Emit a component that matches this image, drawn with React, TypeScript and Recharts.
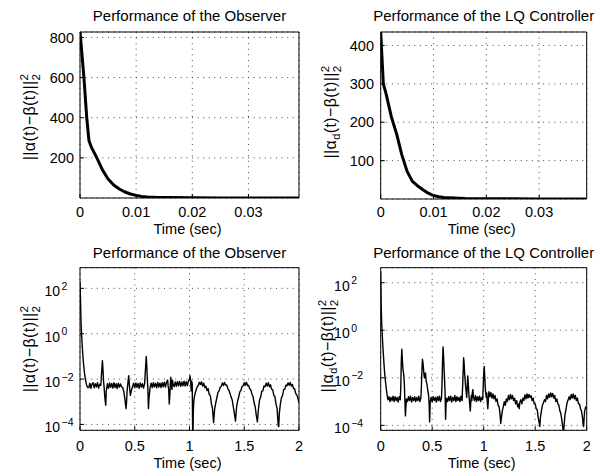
import React from 'react';
import { LineChart, Line, XAxis, YAxis, CartesianGrid } from 'recharts';

const FONT = '"Liberation Sans", Arial, Helvetica, sans-serif';

// ---------- Data ----------
const obsTopTimes = [0, 0.0007, 0.0012, 0.0016, 0.002, 0.003, 0.004, 0.005, 0.006, 0.007, 0.008, 0.009, 0.01, 0.011, 0.012, 0.014, 0.016, 0.02, 0.025, 0.03, 0.039];
const obsTopValues = [830, 600, 400, 285, 255, 200, 140, 95, 65, 45, 30, 20, 13, 8, 5.5, 3, 2, 1, 0.5, 0.3, 0.1];

const lqTopTimes = [0, 0.0005, 0.001, 0.002, 0.003, 0.004, 0.005, 0.006, 0.007, 0.008, 0.009, 0.01, 0.011, 0.012, 0.014, 0.016, 0.02, 0.025, 0.03, 0.039];
const lqTopValues = [435, 300, 275, 215, 170, 115, 72, 46, 34, 24, 15, 9, 6, 4, 2.5, 1.5, 0.8, 0.4, 0.2, 0.1];

// [time (sec), value]
const obsLogSeries: number[][] = [
  [0, 200], [0.005, 25], [0.01, 2.5], [0.02, 0.3], [0.03, 0.06], [0.04, 0.02], [0.05, 0.009], [0.06, 0.0055], [0.07, 0.0042],
  [0.08, 0.0042], [0.09, 0.0066], [0.1, 0.0039], [0.11, 0.0061], [0.12, 0.0068], [0.13, 0.0041], [0.14, 0.0063], [0.15, 0.0045], [0.16, 0.007], [0.17, 0.004], [0.18, 0.0059], [0.19, 0.0052],
  [0.2, 0.03], [0.205, 0.065], [0.21, 0.025], [0.215, 0.008], [0.22, 0.0045], [0.225, 0.002], [0.23, 0.0011], [0.235, 0.0007], [0.24, 0.003],
  [0.25, 0.0062], [0.26, 0.0039], [0.27, 0.0067], [0.28, 0.0043], [0.29, 0.0064], [0.3, 0.004], [0.31, 0.0069], [0.32, 0.0042], [0.33, 0.0063], [0.34, 0.0038],
  [0.35, 0.0066], [0.36, 0.0044], [0.37, 0.0061], [0.38, 0.0045], [0.39, 0.0043], [0.4, 0.0028], [0.41, 0.0013], [0.42, 0.0005], [0.425, 0.0009], [0.43, 0.003],
  [0.44, 0.009], [0.445, 0.014], [0.45, 0.006], [0.46, 0.0019], [0.47, 0.0032], [0.48, 0.0047], [0.49, 0.0066], [0.5, 0.0041], [0.51, 0.0068], [0.52, 0.0043],
  [0.53, 0.0064], [0.54, 0.0039], [0.55, 0.0067], [0.56, 0.0044], [0.57, 0.0062], [0.58, 0.004], [0.59, 0.0063], [0.6, 0.04], [0.605, 0.1], [0.61, 0.035],
  [0.615, 0.009], [0.62, 0.0035], [0.625, 0.0005], [0.63, 0.0014], [0.64, 0.0042], [0.65, 0.0066], [0.66, 0.0042], [0.67, 0.007], [0.68, 0.0045], [0.69, 0.0065],
  [0.7, 0.0041], [0.71, 0.0071], [0.72, 0.0044], [0.73, 0.0066], [0.74, 0.0042], [0.75, 0.0069], [0.76, 0.0046], [0.77, 0.0072], [0.78, 0.0044], [0.79, 0.0074],
  [0.8, 0.009], [0.805, 0.005], [0.81, 0.0035], [0.815, 0.0008], [0.82, 0.0018], [0.825, 0.006], [0.83, 0.012], [0.835, 0.005], [0.84, 0.0035], [0.845, 0.009],
  [0.85, 0.006], [0.86, 0.0046], [0.87, 0.0074], [0.88, 0.0048], [0.89, 0.0077], [0.9, 0.005], [0.91, 0.0079], [0.92, 0.0048], [0.93, 0.0075], [0.94, 0.005],
  [0.95, 0.008], [0.96, 0.0049], [0.97, 0.0077], [0.98, 0.0052], [0.99, 0.0082], [1.0, 0.01], [1.005, 0.014], [1.01, 0.009], [1.015, 0.003], [1.02, 0.008],
  [1.025, 0.006], [1.03, 0.00001], [1.035, 0.0004], [1.04, 0.0012], [1.05, 0.0022], [1.06, 0.0033], [1.07, 0.0045], [1.08, 0.0052], [1.09, 0.0072], [1.1, 0.0058],
  [1.11, 0.0075], [1.12, 0.0049], [1.13, 0.0066], [1.14, 0.0042], [1.15, 0.0048], [1.16, 0.0031], [1.17, 0.0038], [1.18, 0.0021], [1.19, 0.0019], [1.2, 0.0008],
  [1.21, 0.0005], [1.22, 0.00012], [1.23, 0.0005], [1.24, 0.0009], [1.25, 0.0015], [1.26, 0.0026], [1.27, 0.003], [1.28, 0.0044], [1.29, 0.0047], [1.3, 0.0068],
  [1.31, 0.0052], [1.32, 0.0071], [1.33, 0.0054], [1.34, 0.0055], [1.35, 0.0038], [1.36, 0.0032], [1.37, 0.0023], [1.38, 0.0016], [1.39, 0.0012], [1.4, 0.0006],
  [1.41, 0.0003], [1.42, 0.00014], [1.43, 0.0006], [1.44, 0.0011], [1.45, 0.0017], [1.46, 0.0027], [1.47, 0.0032], [1.48, 0.0047], [1.49, 0.0051], [1.5, 0.0069],
  [1.51, 0.0054], [1.52, 0.0072], [1.53, 0.0051], [1.54, 0.0053], [1.55, 0.0037], [1.56, 0.0033], [1.57, 0.0022], [1.58, 0.0017], [1.59, 0.0009], [1.6, 0.0006],
  [1.61, 0.00025], [1.62, 0.00013], [1.63, 0.0005], [1.64, 0.0012], [1.65, 0.0016], [1.66, 0.0029], [1.67, 0.003], [1.68, 0.0049], [1.69, 0.0046], [1.7, 0.0066],
  [1.71, 0.0049], [1.72, 0.0069], [1.73, 0.0046], [1.74, 0.0056], [1.75, 0.0035], [1.76, 0.0034], [1.77, 0.0019], [1.78, 0.0017], [1.79, 0.0008], [1.8, 0.0005],
  [1.81, 0.00009], [1.815, 0.00008], [1.82, 0.0003], [1.83, 0.0008], [1.84, 0.0015], [1.85, 0.0019], [1.86, 0.0034], [1.87, 0.0035], [1.88, 0.0054], [1.89, 0.005],
  [1.9, 0.0068], [1.91, 0.0053], [1.92, 0.0071], [1.93, 0.0049], [1.94, 0.0058], [1.95, 0.0038], [1.96, 0.0038], [1.97, 0.0023], [1.98, 0.002], [1.99, 0.0014],
  [2.0, 0.0009],
];

const lqLogSeries: number[][] = [
  [0, 300], [0.005, 10], [0.01, 1.8], [0.02, 0.25], [0.03, 0.05], [0.04, 0.013], [0.05, 0.005], [0.06, 0.0022], [0.07, 0.0012], [0.08, 0.0016],
  [0.09, 0.001], [0.1, 0.0015], [0.11, 0.0011], [0.12, 0.0017], [0.13, 0.001], [0.14, 0.0016], [0.15, 0.0011], [0.16, 0.0015], [0.17, 0.00095], [0.18, 0.0016],
  [0.19, 0.0012], [0.195, 0.004], [0.2, 0.05], [0.205, 0.16], [0.21, 0.06], [0.215, 0.025], [0.22, 0.018], [0.225, 0.012], [0.23, 0.005], [0.235, 0.001],
  [0.24, 0.00025], [0.245, 0.0006], [0.25, 0.0013], [0.26, 0.001], [0.27, 0.0016], [0.28, 0.0011], [0.29, 0.0017], [0.3, 0.00095], [0.31, 0.0015], [0.32, 0.0011],
  [0.33, 0.0016], [0.34, 0.001], [0.35, 0.0015], [0.36, 0.0011], [0.37, 0.0017], [0.38, 0.001], [0.39, 0.0014], [0.395, 0.004], [0.4, 0.02], [0.405, 0.06],
  [0.41, 0.045], [0.415, 0.025], [0.42, 0.014], [0.425, 0.01], [0.43, 0.013], [0.435, 0.016], [0.44, 0.008], [0.45, 0.005], [0.46, 0.0025], [0.465, 0.0018],
  [0.47, 0.0009], [0.475, 0.00014], [0.48, 0.0009], [0.49, 0.0015], [0.5, 0.001], [0.51, 0.0016], [0.52, 0.0011], [0.53, 0.0015], [0.54, 0.00095], [0.55, 0.0016],
  [0.56, 0.0011], [0.57, 0.0017], [0.58, 0.001], [0.59, 0.0014], [0.595, 0.005], [0.6, 0.04], [0.605, 0.2], [0.61, 0.09], [0.615, 0.025], [0.62, 0.008],
  [0.625, 0.0025], [0.63, 0.00018], [0.635, 0.0008], [0.64, 0.0014], [0.65, 0.001], [0.66, 0.0016], [0.67, 0.0011], [0.68, 0.0017], [0.69, 0.00095], [0.7, 0.0015],
  [0.71, 0.0011], [0.72, 0.0018], [0.73, 0.001], [0.74, 0.0016], [0.75, 0.0011], [0.76, 0.0015], [0.77, 0.001], [0.78, 0.0017], [0.79, 0.0011], [0.795, 0.004],
  [0.8, 0.015], [0.805, 0.07], [0.81, 0.04], [0.815, 0.015], [0.82, 0.008], [0.825, 0.004], [0.83, 0.0025], [0.835, 0.0015], [0.84, 0.004], [0.845, 0.012],
  [0.85, 0.006], [0.855, 0.0025], [0.86, 0.0012], [0.865, 0.0007], [0.87, 0.0004], [0.875, 0.001], [0.88, 0.0018], [0.885, 0.0011], [0.89, 0.0025], [0.895, 0.0032],
  [0.9, 0.0016], [0.91, 0.0011], [0.92, 0.0018], [0.93, 0.001], [0.94, 0.0016], [0.95, 0.0011], [0.96, 0.0017], [0.97, 0.001], [0.98, 0.0015], [0.99, 0.0012],
  [0.995, 0.004], [1.0, 0.015], [1.005, 0.03], [1.01, 0.012], [1.015, 0.004], [1.02, 0.0022], [1.025, 0.0015], [1.03, 0.0023], [1.035, 0.0009], [1.04, 0.0005],
  [1.045, 0.0012], [1.05, 0.0026], [1.06, 0.0016], [1.07, 0.0024], [1.08, 0.0014], [1.09, 0.0021], [1.1, 0.0013], [1.11, 0.0018], [1.12, 0.001], [1.13, 0.0013],
  [1.14, 0.0007], [1.15, 0.0006], [1.16, 0.00025], [1.165, 0.00012], [1.17, 0.00018], [1.18, 0.0004], [1.19, 0.0006], [1.2, 0.001], [1.21, 0.0007], [1.22, 0.0013],
  [1.23, 0.001], [1.24, 0.0018], [1.25, 0.0012], [1.26, 0.002], [1.27, 0.0013], [1.28, 0.0018], [1.29, 0.0011], [1.3, 0.0014], [1.31, 0.0008], [1.32, 0.0011],
  [1.33, 0.0006], [1.34, 0.0008], [1.345, 0.0005], [1.35, 0.0009], [1.36, 0.0012], [1.37, 0.0008], [1.38, 0.0014], [1.39, 0.0011], [1.4, 0.0019], [1.41, 0.0013],
  [1.42, 0.0021], [1.43, 0.0014], [1.44, 0.002], [1.45, 0.0015], [1.46, 0.0018], [1.47, 0.0011], [1.48, 0.0014], [1.49, 0.0008], [1.5, 0.0008], [1.51, 0.0005],
  [1.52, 0.00045], [1.53, 0.0002], [1.54, 0.00012], [1.545, 0.00009], [1.55, 0.0002], [1.56, 0.0004], [1.57, 0.0007], [1.58, 0.0009], [1.59, 0.0012], [1.6, 0.001],
  [1.61, 0.0018], [1.62, 0.0013], [1.63, 0.0021], [1.64, 0.0015], [1.65, 0.0023], [1.66, 0.0016], [1.67, 0.0022], [1.68, 0.0014], [1.69, 0.0018], [1.7, 0.001],
  [1.71, 0.0013], [1.72, 0.0008], [1.73, 0.0007], [1.74, 0.0004], [1.75, 0.0003], [1.76, 0.00015], [1.77, 0.00007], [1.775, 0.00005], [1.78, 0.0001], [1.79, 0.0003],
  [1.8, 0.0005], [1.81, 0.0009], [1.82, 0.0012], [1.83, 0.0016], [1.84, 0.0012], [1.85, 0.002], [1.86, 0.0014], [1.87, 0.0021], [1.88, 0.0013], [1.89, 0.0018],
  [1.9, 0.0011], [1.91, 0.0014], [1.92, 0.0008], [1.93, 0.0008], [1.94, 0.0005], [1.95, 0.0004], [1.96, 0.0002], [1.965, 0.00011], [1.97, 0.00009], [1.975, 0.0002],
  [1.98, 0.0004], [1.99, 0.0006], [2.0, 0.0005],
];

const topXTicks = [0, 0.01, 0.02, 0.03];
const topXTickLabels = ['0', '0.01', '0.02', '0.03'];
const bottomXTicks = [0, 0.5, 1, 1.5, 2];
const bottomXTickLabels = ['0', '0.5', '1', '1.5', '2'];
const obsTopYTicks = [200, 400, 600, 800];
const lqTopYTicks = [100, 200, 300, 400];
const logYTicks = [1e-4, 1e-2, 1, 1e2];
const logYExponents = ['\u22124', '\u22122', '0', '2'];

const titleObserver = 'Performance of the Observer';
const titleLQ = 'Performance of the LQ Controller';
const xLabelText = 'Time (sec)';

const zip = (ts: number[], vs: number[]) => ts.map((t, i) => ({ t, v: vs[i] }));
const pairs = (arr: number[][]) => arr.map(([t, v]) => ({ t, v }));

// ---------- Components ----------
type Box = { l: number; t: number; r: number; b: number };

const labelFor = (ticks: number[], labels: string[], v: number) => {
  const i = ticks.findIndex((k) => Math.abs(k - v) / Math.max(Math.abs(k), 1e-12) < 1e-6 || Math.abs(k - v) < 1e-12);
  return i >= 0 ? labels[i] : String(v);
};

function YLabel({ cx, cy, sub }: { cx: number; cy: number; sub: boolean }) {
  return (
    <text
      transform={`rotate(-90 ${cx} ${cy})`}
      x={cx}
      y={cy}
      textAnchor="middle"
      fontFamily={FONT}
      fontSize={16}
      letterSpacing={0.4}
      fill="#000"
    >
      {sub ? (
        <>
          <tspan>||α</tspan>
          <tspan dy={4} fontSize={11}>d</tspan>
          <tspan dy={-4}>(t)−β(t)||</tspan>
        </>
      ) : (
        <tspan>||α(t)−β(t)||</tspan>
      )}
      <tspan dy={-7} fontSize={11.5}>2</tspan>
      <tspan dx={-6.8} dy={12} fontSize={11.5}>2</tspan>
    </text>
  );
}

type PanelProps = {
  x0: number;
  y0: number;
  w: number;
  h: number;
  box: Box;
  data: { t: number; v: number }[];
  xDomain: [number, number];
  xTicks: number[];
  xTickLabels: string[];
  yDomain: [number, number];
  yTicks: number[];
  log: boolean;
  lineWidth: number;
  title: string;
  titleY: number;
  xTickBase: number;
  xLabelBase: number;
  yLabelCx: number;
  yLabelCy: number;
  yLabelSub: boolean;
  yTickGap: number;
};

function Panel(p: PanelProps) {
  const margin = { top: p.box.t - 1, right: p.w - p.box.r - 1, left: 0, bottom: 0 };
  const cxPlot = (p.box.l + p.box.r) / 2;

  const XTick = (props: any) => {
    const { x, payload } = props;
    return (
      <text x={x} y={p.xTickBase} textAnchor="middle" fontFamily={FONT} fontSize={14.5} fill="#000">
        {labelFor(p.xTicks, p.xTickLabels, payload.value)}
      </text>
    );
  };

  const YTickLin = (props: any) => {
    const { y, payload } = props;
    return (
      <text x={p.box.l - p.yTickGap} y={y} dy="0.36em" textAnchor="end" fontFamily={FONT} fontSize={14.5} fill="#000">
        {String(payload.value)}
      </text>
    );
  };

  const YTickLog = (props: any) => {
    const { y, payload } = props;
    const bx = p.box.l - p.yTickGap;
    return (
      <g>
        <text x={bx} y={y + 8} textAnchor="end" fontFamily={FONT} fontSize={14} fill="#000">
          10
        </text>
        <text x={bx + 1.5} y={y + 1.5} textAnchor="start" fontFamily={FONT} fontSize={10.5} fill="#000">
          {labelFor(logYTicks, logYExponents, payload.value)}
        </text>
      </g>
    );
  };

  const axisStroke = { stroke: '#000', strokeWidth: 1 };

  return (
    <div style={{ position: 'absolute', left: p.x0, top: p.y0, width: p.w, height: p.h }}>
      <LineChart width={p.w} height={p.h} data={p.data} margin={margin}>
        <CartesianGrid stroke="#333" strokeWidth={0.9} strokeDasharray="1 4.6" />
        <XAxis
          dataKey="t"
          type="number"
          domain={p.xDomain}
          ticks={p.xTicks}
          interval={0}
          allowDataOverflow
          height={p.h - p.box.b}
          tickSize={-4}
          tickMargin={4}
          axisLine={axisStroke}
          tickLine={axisStroke}
          tick={<XTick />}
        />
        <XAxis
          xAxisId="top"
          orientation="top"
          type="number"
          domain={p.xDomain}
          ticks={p.xTicks}
          interval={0}
          allowDataOverflow
          height={1}
          tickSize={-4}
          axisLine={axisStroke}
          tickLine={axisStroke}
          tick={false}
        />
        <YAxis
          type="number"
          scale={p.log ? 'log' : 'linear'}
          domain={p.yDomain}
          ticks={p.yTicks}
          interval={0}
          allowDataOverflow
          width={p.box.l}
          tickSize={-4}
          tickMargin={4}
          axisLine={axisStroke}
          tickLine={axisStroke}
          tick={p.log ? <YTickLog /> : <YTickLin />}
        />
        <YAxis
          yAxisId="right"
          orientation="right"
          type="number"
          scale={p.log ? 'log' : 'linear'}
          domain={p.yDomain}
          ticks={p.yTicks}
          interval={0}
          allowDataOverflow
          width={1}
          tickSize={-4}
          axisLine={axisStroke}
          tickLine={axisStroke}
          tick={false}
        />
        <Line
          dataKey="v"
          type="linear"
          stroke="#000"
          strokeWidth={p.lineWidth}
          strokeLinejoin="round"
          dot={false}
          activeDot={false}
          isAnimationActive={false}
        />
        <text x={cxPlot} y={p.titleY} textAnchor="middle" fontFamily={FONT} fontSize={15} fill="#000">
          {p.title}
        </text>
        <text x={cxPlot - 2} y={p.xLabelBase} textAnchor="middle" fontFamily={FONT} fontSize={14.5} fill="#000">
          {xLabelText}
        </text>
        <YLabel cx={p.yLabelCx} cy={p.yLabelCy} sub={p.yLabelSub} />
      </LineChart>
    </div>
  );
}

export default function App() {
  return (
    <div
      style={{
        position: 'absolute',
        left: 0,
        top: 0,
        width: 613,
        height: 476,
        background: '#fff',
        overflow: 'hidden',
      }}
    >
      <Panel
        x0={0}
        y0={0}
        w={306}
        h={238}
        box={{ l: 80, t: 32, r: 299, b: 198 }}
        data={zip(obsTopTimes, obsTopValues)}
        xDomain={[0, 0.039]}
        xTicks={topXTicks}
        xTickLabels={topXTickLabels}
        yDomain={[0, 827]}
        yTicks={obsTopYTicks}
        log={false}
        lineWidth={3}
        title={titleObserver}
        titleY={20.5}
        xTickBase={217}
        xLabelBase={233.5}
        yLabelCx={35}
        yLabelCy={117}
        yLabelSub={false}
        yTickGap={6}
      />
      <Panel
        x0={306}
        y0={0}
        w={307}
        h={238}
        box={{ l: 74.7, t: 32, r: 280.7, b: 199 }}
        data={zip(lqTopTimes, lqTopValues)}
        xDomain={[0, 0.039]}
        xTicks={topXTicks}
        xTickLabels={topXTickLabels}
        yDomain={[0, 435]}
        yTicks={lqTopYTicks}
        log={false}
        lineWidth={3}
        title={titleLQ}
        titleY={20.5}
        xTickBase={217}
        xLabelBase={233.5}
        yLabelCx={30}
        yLabelCy={112}
        yLabelSub={true}
        yTickGap={6.7}
      />
      <Panel
        x0={0}
        y0={238}
        w={306}
        h={238}
        box={{ l: 80, t: 29.7, r: 299, b: 192.3 }}
        data={pairs(obsLogSeries)}
        xDomain={[0, 2]}
        xTicks={bottomXTicks}
        xTickLabels={bottomXTickLabels}
        yDomain={[5.5e-5, 813]}
        yTicks={logYTicks}
        log={true}
        lineWidth={1.4}
        title={titleObserver}
        titleY={20}
        xTickBase={213}
        xLabelBase={229.5}
        yLabelCx={35}
        yLabelCy={111}
        yLabelSub={false}
        yTickGap={20}
      />
      <Panel
        x0={306}
        y0={238}
        w={307}
        h={238}
        box={{ l: 74.7, t: 29.7, r: 280.7, b: 192.3 }}
        data={pairs(lqLogSeries)}
        xDomain={[0, 2]}
        xTicks={bottomXTicks}
        xTickLabels={bottomXTickLabels}
        yDomain={[6.2e-5, 427]}
        yTicks={logYTicks}
        log={true}
        lineWidth={1.4}
        title={titleLQ}
        titleY={20}
        xTickBase={213}
        xLabelBase={229.5}
        yLabelCx={26.5}
        yLabelCy={108}
        yLabelSub={true}
        yTickGap={31}
      />
    </div>
  );
}
